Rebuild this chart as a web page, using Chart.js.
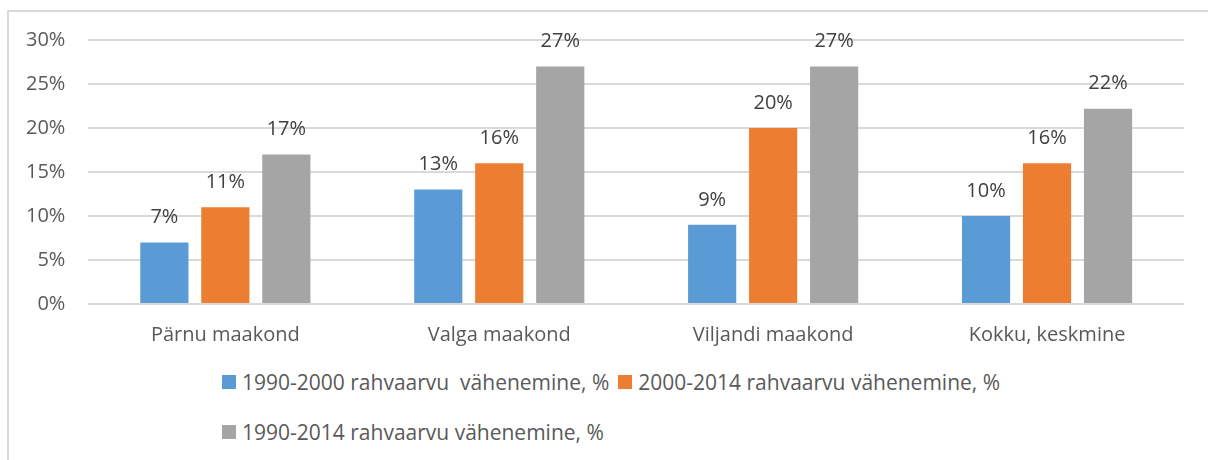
<!DOCTYPE html>
<html lang="et">
<head>
<meta charset="UTF-8">
<title>Rahvaarvu vähenemine</title>
<script src="https://cdn.jsdelivr.net/npm/chart.js"></script>
<style>
    body { margin: 0; background: #fff; }
    #wrap { position: relative; width: 1208px; height: 460px; overflow: hidden; }
    #frame {
        position: absolute; left: 7px; top: 10px; width: 1300px; height: 600px;
        border-left: 2px solid #d9d9d9; border-top: 2px solid #d9d9d9;
    }
    #box { position: absolute; left: 0; top: 0; width: 1208px; height: 362px; }
    .legend-row {
        position: absolute; left: 222px; display: flex; align-items: center;
        font-family: "Open Sans", sans-serif; font-size: 21px; color: #595959; white-space: pre;
    }
    .swatch { width: 14px; height: 14px; margin-right: 6px; }
    .item { display: flex; align-items: center; margin-right: 9px; }
</style>
</head>
<body>
<div id="wrap">
    <div id="frame"></div>
    <div id="box"><canvas id="chart"></canvas></div>
    <div class="legend-row" id="row1" style="top: 368px;"></div>
    <div class="legend-row" id="row2" style="top: 418px;"></div>
</div>
<script>
    const categories = ['Pärnu maakond', 'Valga maakond', 'Viljandi maakond', 'Kokku, keskmine'];
    const seriesNames = [
        '1990-2000 rahvaarvu  vähenemine, %',
        '2000-2014 rahvaarvu vähenemine, %',
        '1990-2014 rahvaarvu vähenemine, %'
    ];
    const decline1990_2000 = [7, 13, 9, 10];
    const decline2000_2014 = [11, 16, 20, 16];
    const decline1990_2014 = [17, 27, 27, 22.2];
    const colors = ['#5b9bd5', '#ed7d31', '#a5a5a5'];

    // labels above each bar
    const valueLabels = {
        id: 'valueLabels',
        afterDatasetsDraw(chart) {
            const ctx = chart.ctx;
            ctx.save();
            ctx.font = '20px "Open Sans", sans-serif';
            ctx.fillStyle = '#404040';
            ctx.textAlign = 'center';
            ctx.textBaseline = 'middle';
            chart.data.datasets.forEach((ds, i) => {
                chart.getDatasetMeta(i).data.forEach((bar, j) => {
                    ctx.fillText(Math.round(ds.data[j]) + '%', bar.x, bar.y - 25);
                });
            });
            ctx.restore();
        }
    };

    const allData = [decline1990_2000, decline2000_2014, decline1990_2014];

    new Chart(document.getElementById('chart'), {
        type: 'bar',
        data: {
            labels: categories,
            datasets: allData.map((d, i) => ({
                label: seriesNames[i],
                data: d,
                backgroundColor: colors[i],
                categoryPercentage: 0.668,
                barPercentage: 0.79
            }))
        },
        options: {
            responsive: true,
            maintainAspectRatio: false,
            animation: false,
            layout: { padding: { left: 3, right: 24, top: 40, bottom: 4 } },
            scales: {
                x: {
                    grid: { display: false },
                    border: { display: false },
                    ticks: { color: '#595959', padding: 11, font: { family: 'Open Sans', size: 20 } }
                },
                y: {
                    min: 0,
                    max: 30,
                    grid: { color: '#d9d9d9', lineWidth: 2, drawTicks: false },
                    border: { display: false },
                    ticks: {
                        stepSize: 5,
                        padding: 23,
                        color: '#595959',
                        font: { family: 'Open Sans', size: 20 },
                        callback: v => v + '%'
                    }
                }
            },
            plugins: {
                legend: { display: false },
                tooltip: { enabled: false }
            }
        },
        plugins: [valueLabels]
    });

    // legend like the original: two left-aligned rows
    function legendItem(i) {
        const el = document.createElement('div');
        el.className = 'item';
        el.innerHTML = '<div class="swatch" style="background:' + colors[i] + '"></div>';
        el.appendChild(document.createTextNode(seriesNames[i]));
        return el;
    }
    document.getElementById('row1').appendChild(legendItem(0));
    document.getElementById('row1').appendChild(legendItem(1));
    document.getElementById('row2').appendChild(legendItem(2));
</script>
</body>
</html>
